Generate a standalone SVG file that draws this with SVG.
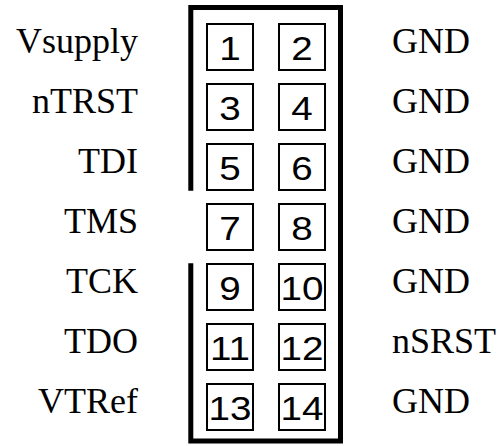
<svg xmlns="http://www.w3.org/2000/svg" width="501" height="446" viewBox="0 0 501 446">
<style>
.pin{fill:#fff;stroke:#000;stroke-width:2}
.frame{fill:none;stroke:#000;stroke-width:5;stroke-linejoin:miter;stroke-linecap:butt}
</style>
<rect width="501" height="446" fill="#fff"/>
<g id="connector-body">
<path class="frame" d="M190.8 190.7 V7.5 H340.5 V441 H190.8 V263.3"/>
</g>
<g font-family="Liberation Sans, Arimo, Arial, Helvetica, sans-serif" font-size="33" text-anchor="middle" fill="#000">
<g id="pin1"><rect class="pin" x="207" y="24" width="46" height="46"/><text transform="translate(230,60) scale(1.17,1)">1</text></g>
<g id="pin2"><rect class="pin" x="279" y="24" width="46" height="46"/><text transform="translate(302,60) scale(1.17,1)">2</text></g>
<g id="pin3"><rect class="pin" x="207" y="84" width="46" height="46"/><text transform="translate(230,120) scale(1.17,1)">3</text></g>
<g id="pin4"><rect class="pin" x="279" y="84" width="46" height="46"/><text transform="translate(302,120) scale(1.17,1)">4</text></g>
<g id="pin5"><rect class="pin" x="207" y="144" width="46" height="46"/><text transform="translate(230,180) scale(1.17,1)">5</text></g>
<g id="pin6"><rect class="pin" x="279" y="144" width="46" height="46"/><text transform="translate(302,180) scale(1.17,1)">6</text></g>
<g id="pin7"><rect class="pin" x="207" y="204" width="46" height="46"/><text transform="translate(230,240) scale(1.17,1)">7</text></g>
<g id="pin8"><rect class="pin" x="279" y="204" width="46" height="46"/><text transform="translate(302,240) scale(1.17,1)">8</text></g>
<g id="pin9"><rect class="pin" x="207" y="264" width="46" height="46"/><text transform="translate(230,300) scale(1.17,1)">9</text></g>
<g id="pin10"><rect class="pin" x="279" y="264" width="46" height="46"/><text transform="translate(302,300) scale(1.17,1)">10</text></g>
<g id="pin11"><rect class="pin" x="207" y="324" width="46" height="46"/><text transform="translate(230,360) scale(1.17,1)">11</text></g>
<g id="pin12"><rect class="pin" x="279" y="324" width="46" height="46"/><text transform="translate(302,360) scale(1.17,1)">12</text></g>
<g id="pin13"><rect class="pin" x="207" y="384" width="46" height="46"/><text transform="translate(230,420) scale(1.17,1)">13</text></g>
<g id="pin14"><rect class="pin" x="279" y="384" width="46" height="46"/><text transform="translate(302,420) scale(1.17,1)">14</text></g>
</g>
<g id="labels-left" font-family="Liberation Serif, Tinos, Times New Roman, Times, DejaVu Serif, serif" font-size="36" text-anchor="end" fill="#000">
<text x="138" y="53">Vsupply</text>
<text x="138" y="113">nTRST</text>
<text x="138" y="173">TDI</text>
<text x="138" y="233">TMS</text>
<text x="138" y="293">TCK</text>
<text x="138" y="353">TDO</text>
<text x="138" y="413">VTRef</text>
</g>
<g id="labels-right" font-family="Liberation Serif, Tinos, Times New Roman, Times, DejaVu Serif, serif" font-size="36" text-anchor="start" fill="#000">
<text x="392" y="53">GND</text>
<text x="392" y="113">GND</text>
<text x="392" y="173">GND</text>
<text x="392" y="233">GND</text>
<text x="392" y="293">GND</text>
<text x="392" y="353">nSRST</text>
<text x="392" y="413">GND</text>
</g>
</svg>
